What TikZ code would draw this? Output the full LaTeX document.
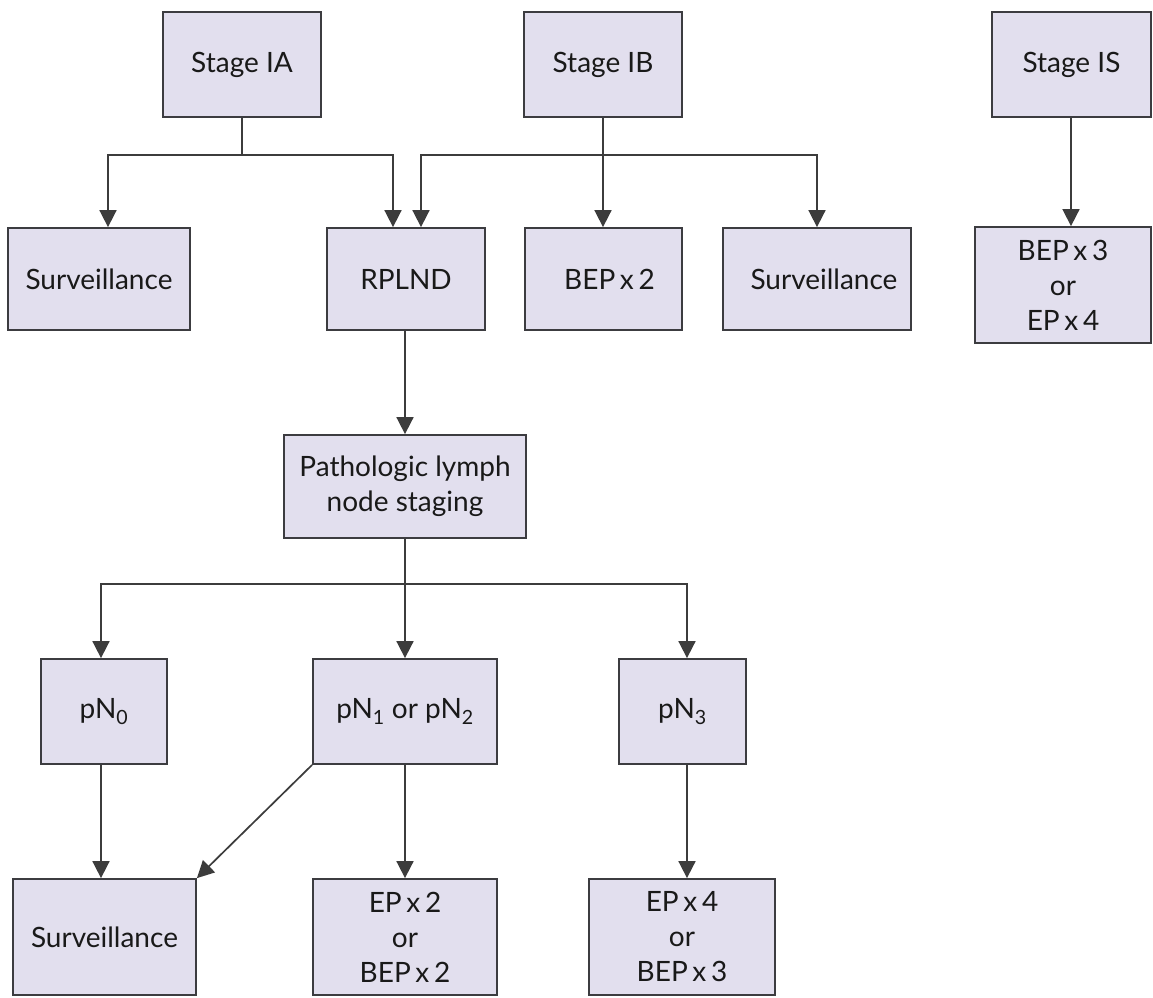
\documentclass[tikz,border=0pt]{standalone}
\usepackage{fontspec}
\setmainfont{Lato}
\usetikzlibrary{arrows.meta,calc}
\definecolor{boxfill}{RGB}{226,223,238}
\definecolor{boxline}{RGB}{60,60,64}
\definecolor{conn}{RGB}{60,60,60}
\begin{document}
\begin{tikzpicture}[x=1pt,y=-1pt,
  box/.style={draw=boxline,line width=1.8pt,fill=boxfill,inner sep=0pt,align=center,
    font=\fontsize{28}{35}\selectfont,text=black!90},
  arr/.style={draw=conn,line width=1.7pt,-{Triangle[width=17pt,length=17pt]}},
  ln/.style={draw=conn,line width=1.7pt}]
\useasboundingbox[fill=white] (0,0) rectangle (1153,997);
% top row
\node[box,minimum width=158,minimum height=105] (ia) at (242,64.5) {Stage IA};
\node[box,minimum width=158,minimum height=105] (ib) at (603,64.5) {Stage IB};
\node[box,minimum width=159,minimum height=105] (is) at (1071.5,64.5) {Stage IS};
% second row
\node[box,minimum width=182,minimum height=102] (survL) at (99,279) {Surveillance};
\node[box,minimum width=158,minimum height=102] (rplnd) at (406,279) {RPLND};
\node[box,minimum width=157,minimum height=102] (bep2) at (603.5,279) {\hspace*{12pt}BEP\,x\,2};
\node[box,minimum width=188,minimum height=102] (survR) at (817,279) {\hspace*{14pt}Surveillance};
\node[box,minimum width=176,minimum height=116] (bep3) at (1063,285) {BEP\,x\,3\\or\\EP\,x\,4};
% middle
\node[box,minimum width=242,minimum height=103] (path) at (405,486.5) {Pathologic lymph\\node staging};
% third row
\node[box,minimum width=126,minimum height=105] (pn0) at (104,711.5) {pN\textsubscript{0}};
\node[box,minimum width=184,minimum height=105] (pn12) at (405,711.5) {pN\textsubscript{1} or pN\textsubscript{2}};
\node[box,minimum width=127,minimum height=105] (pn3) at (682.5,711.5) {pN\textsubscript{3}};
% bottom row
\node[box,minimum width=183,minimum height=116] (survB) at (104.5,937) {Surveillance};
\node[box,minimum width=184,minimum height=116] (ep2) at (405,937) {EP\,x\,2\\or\\BEP\,x\,2};
\node[box,minimum width=186,minimum height=116] (ep4) at (682,937) {EP\,x\,4\\or\\BEP\,x\,3};
% connectors
\coordinate (ja) at (242,155);
\coordinate (jb) at (603,155);
\draw[ln] (ia.south) -- (ja);
\draw[arr] (ja) -| ([xshift=9]survL.north);
\draw[arr] (ja) -| ([xshift=-13]rplnd.north);
\draw[arr] (ib.south) -- (ib.south |- bep2.north);
\draw[arr] (jb) -| ([xshift=15]rplnd.north);
\draw[arr] (jb) -| (survR.north);
\draw[arr] ([xshift=-0.5]is.south) -- ([xshift=-0.5]is.south |- bep3.north);
\draw[arr] (rplnd.south -| path.north) -- (path.north);
\coordinate (jp) at (405,584);
\draw[ln] (path.south) -- (jp);
\draw[arr] (jp) -| ([xshift=-3]pn0.north);
\draw[arr] (jp) -- (pn12.north);
\draw[arr] (jp) -| ([xshift=4.5]pn3.north);
\draw[arr] ([xshift=-3]pn0.south) -- ([xshift=-3]pn0.south |- survB.north);
\draw[arr] (pn12.south west) -- (survB.north east);
\draw[arr] (pn12.south) -- (ep2.north);
\draw[arr] ([xshift=4.5]pn3.south) -- ([xshift=4.5]pn3.south |- ep4.north);
\end{tikzpicture}
\end{document}
